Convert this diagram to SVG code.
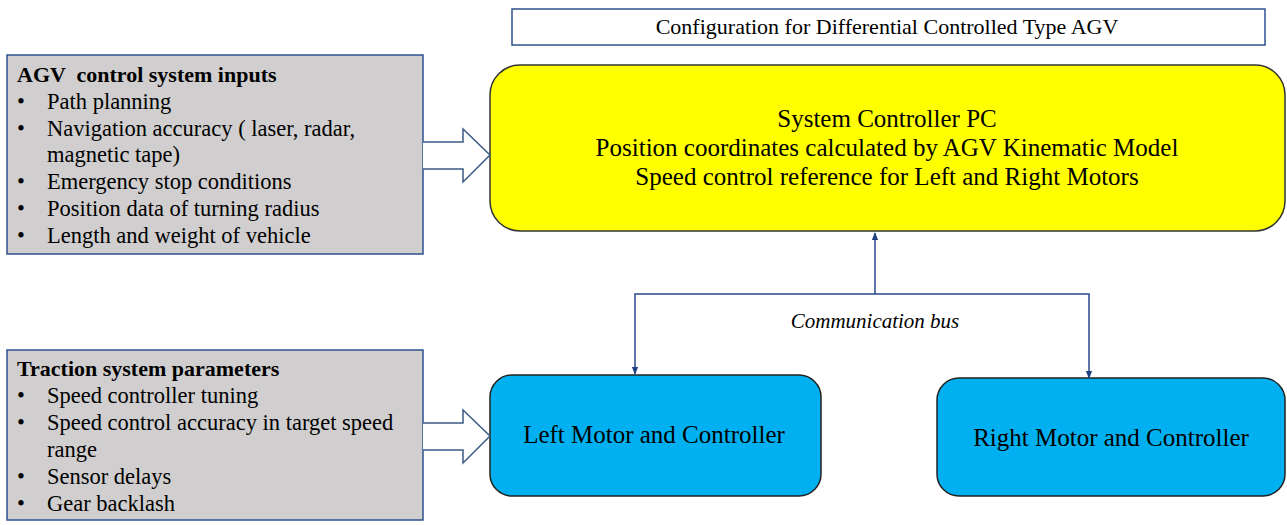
<svg xmlns="http://www.w3.org/2000/svg" width="1287" height="525" viewBox="0 0 1287 525">
<style>
.box{fill:#d0cece;stroke:#2f528f;stroke-width:1.5}
.lst{font-size:22.5px}
.hd{font-size:22px;font-weight:bold}
.big{font-size:25px}
.hollow{fill:#fff;stroke:#3b5a85;stroke-width:1.5}
.conn{fill:none;stroke:#2a4a8a;stroke-width:1.5}
</style>
<defs>
<marker id="ah" viewBox="0 0 10 10" refX="9" refY="5" markerWidth="8" markerHeight="8" markerUnits="userSpaceOnUse" orient="auto">
<path d="M0,1 L10,5 L0,9 z" fill="#1f3f7f"/>
</marker>
</defs>
<g font-family="'Liberation Serif', serif" fill="#000">
<g id="title">
<rect x="512" y="9" width="753" height="36" fill="#fff" stroke="#2f528f" stroke-width="1.5"/>
<text x="887" y="34" font-size="22px" text-anchor="middle">Configuration for Differential Controlled Type AGV</text>
</g>
<g id="inputs">
<rect class="box" x="7" y="55" width="416" height="199"/>
<text class="hd" x="17" y="82" xml:space="preserve">AGV  control system inputs</text>
<g class="lst">
<text x="17" y="109">•</text><text x="47" y="109">Path planning</text>
<text x="17" y="136">•</text><text x="47" y="136">Navigation accuracy ( laser, radar,</text>
<text x="47" y="162">magnetic tape)</text>
<text x="17" y="189">•</text><text x="47" y="189">Emergency stop conditions</text>
<text x="17" y="216">•</text><text x="47" y="216">Position data of turning radius</text>
<text x="17" y="243">•</text><text x="47" y="243">Length and weight of vehicle</text>
</g>
</g>
<g id="traction">
<rect class="box" x="7" y="350" width="416" height="170"/>
<text class="hd" x="17" y="376">Traction system parameters</text>
<g class="lst">
<text x="17" y="403">•</text><text x="47" y="403">Speed controller tuning</text>
<text x="17" y="430">•</text><text x="47" y="430">Speed control accuracy in target speed</text>
<text x="47" y="457">range</text>
<text x="17" y="484">•</text><text x="47" y="484">Sensor delays</text>
<text x="17" y="511">•</text><text x="47" y="511">Gear backlash</text>
</g>
</g>
<g id="controller">
<rect x="490" y="65" width="795" height="166" rx="30" fill="#ffff00" stroke="#333" stroke-width="1.5"/>
<text class="big" x="887" y="127" text-anchor="middle">System Controller PC</text>
<text class="big" x="887" y="156" text-anchor="middle">Position coordinates calculated by AGV Kinematic Model</text>
<text class="big" x="887" y="185" text-anchor="middle">Speed control reference for Left and Right Motors</text>
</g>
<g id="left-motor">
<rect x="490" y="375" width="331" height="121" rx="22" fill="#00b0f0" stroke="#222" stroke-width="1.5"/>
<text class="big" x="654" y="443" text-anchor="middle">Left Motor and Controller</text>
</g>
<g id="right-motor">
<rect x="937" y="378" width="348" height="118" rx="22" fill="#00b0f0" stroke="#222" stroke-width="1.5"/>
<text class="big" x="1111" y="446" text-anchor="middle">Right Motor and Controller</text>
</g>
<g id="connectors">
<path class="hollow" d="M423,142 L463,142 L463,129 L490,155 L463,182 L463,169 L423,169"/>
<path class="hollow" d="M423,423 L463,423 L463,410 L490,436 L463,463 L463,450 L423,450"/>
<path class="conn" d="M875,294 L875,233" marker-end="url(#ah)"/>
<path class="conn" d="M875,294 L635,294 L635,374" marker-end="url(#ah)"/>
<path class="conn" d="M875,294 L1089,294 L1089,378" marker-end="url(#ah)"/>
<text x="875" y="328" font-size="21px" font-style="italic" text-anchor="middle">Communication bus</text>
</g>
</g>
</svg>
